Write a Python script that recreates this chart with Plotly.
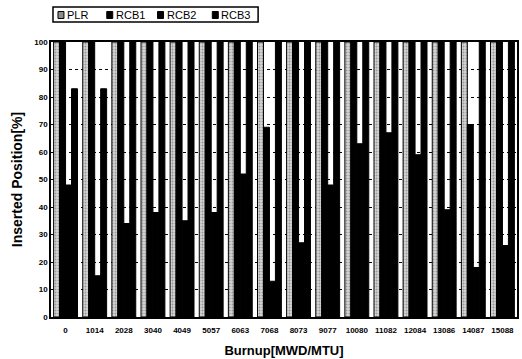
import plotly.graph_objects as go

burnup = ["0", "1014", "2028", "3040", "4049", "5057", "6063", "7068",
          "8073", "9077", "10080", "11082", "12084", "13086", "14087", "15088"]
plr  = [100, 100, 100, 100, 100, 100, 100, 100, 100, 100, 100, 100, 100, 100, 100, 100]
rcb1 = [100, 100, 100, 100, 100, 100, 100, 69, 100, 100, 100, 100, 100, 100, 70, 100]
rcb2 = [48, 15, 34, 38, 35, 38, 52, 13, 27, 48, 63, 67, 59, 39, 18, 26]
rcb3 = [83, 83, 100, 100, 100, 100, 100, 100, 100, 100, 100, 100, 100, 100, 100, 100]
series_names = ["PLR", "RCB1", "RCB2", "RCB3"]
y_ticks = [0, 10, 20, 30, 40, 50, 60, 70, 80, 90, 100]

FONT = "Liberation Sans"
W, H = 522, 359
L, R, T, B = 51, 3, 42, 42
PW, PH = W - L - R, H - T - B


def px(xp):
    return (xp - L) / PW


def py(yp):
    return (H - B - yp) / PH


fig = go.Figure()
fig.add_trace(go.Bar(
    name=series_names[0], x=burnup, y=plr,
    marker=dict(color="#d4d4d4",
                pattern=dict(shape=".", fgcolor="#5a5a5a", size=3, solidity=0.35, fillmode="overlay"),
                line=dict(color="black", width=1)),
))
for name, vals in zip(series_names[1:], [rcb1, rcb2, rcb3]):
    fig.add_trace(go.Bar(
        name=name, x=burnup, y=vals,
        marker=dict(color="black", line=dict(color="black", width=1)),
    ))

# manual legend (compact, as in the reference)
shapes = [dict(type="rect", xref="paper", yref="paper",
               x0=px(53), x1=px(259), y0=py(22), y1=py(7),
               line=dict(color="black", width=1.5), fillcolor="white")]
annotations = []
sym_x = [58, 107, 158, 213]
sym_fill = ["#8c8c8c", "black", "black", "black"]
for name, sx, fc in zip(series_names, sym_x, sym_fill):
    shapes.append(dict(type="rect", xref="paper", yref="paper",
                       x0=px(sx), x1=px(sx + 6), y0=py(18.5), y1=py(11.5),
                       line=dict(color="black", width=1), fillcolor=fc))
    annotations.append(dict(text=name, xref="paper", yref="paper",
                            x=px(sx + 7), y=py(15), xanchor="left", yanchor="middle",
                            showarrow=False,
                            font=dict(family=FONT, size=11, color="black")))

fig.update_layout(
    width=W, height=H,
    margin=dict(l=L, r=R, t=T, b=B),
    paper_bgcolor="white", plot_bgcolor="white",
    barmode="group", bargap=0.18, bargroupgap=0,
    font=dict(family=FONT, color="black"),
    showlegend=False,
    shapes=shapes, annotations=annotations,
    xaxis=dict(
        type="category",
        title=dict(text="Burnup[MWD/MTU]", font=dict(family=FONT, size=13, weight="bold"), standoff=12),
        tickfont=dict(family=FONT, size=8, weight="bold"),
        ticklabelstandoff=5,
        showline=True, mirror=True, linecolor="black", linewidth=1.5,
        ticks="", showgrid=False,
    ),
    yaxis=dict(
        range=[0, 100], tickvals=y_ticks,
        title=dict(text="Inserted Position[%]", font=dict(family=FONT, size=14, weight="bold"), standoff=8),
        tickfont=dict(family=FONT, size=8, weight="bold"),
        showline=True, mirror=True, linecolor="black", linewidth=1.5,
        showgrid=True, gridcolor="black", griddash="dot", gridwidth=1,
        ticks="", zeroline=False,
    ),
)

fig.write_html("out.html", config={"displayModeBar": False},
               post_script="document.body.style.margin='0';")
